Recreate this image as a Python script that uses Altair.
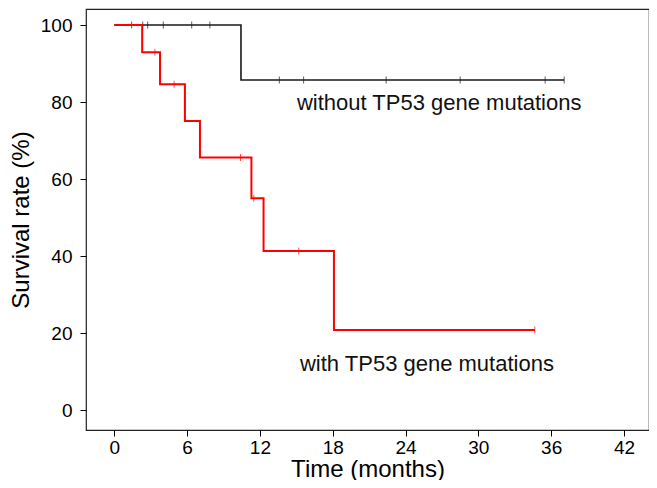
import altair as alt
import pandas as pd

# Kaplan-Meier step points (time in months, survival %)
black_t = [0, 10.44, 37.07]
black_s = [100, 85.7, 85.7]
red_t = [0, 2.3, 3.77, 5.82, 7.06, 11.3, 12.3, 18.1, 34.65]
red_s = [100, 92.9, 84.6, 75.1, 65.6, 55.0, 41.3, 20.8, 20.8]

# censor marks
black_ct = [1.43, 2.34, 2.75, 4.04, 6.38, 7.88, 13.6, 15.6, 22.4, 28.5, 35.5, 37.07]
black_cs = [100, 100, 100, 100, 100, 100, 85.7, 85.7, 85.7, 85.7, 85.7, 85.7]
red_ct = [3.35, 4.93, 10.4, 11.5, 15.2, 34.65]
red_cs = [92.9, 84.6, 65.6, 55.0, 41.3, 20.8]

label_text = ["without TP53 gene mutations", "with TP53 gene mutations"]
label_x = [15.05, 15.3]
label_y = [79.7, 12.0]

x_ticks = [0, 6, 12, 18, 24, 30, 36, 42]
y_ticks = [0, 20, 40, 60, 80, 100]

FONT = "Liberation Sans"
xscale = alt.Scale(domain=[-2.33, 44.06], nice=False, zero=False)
yscale = alt.Scale(domain=[-5.19, 104.16], nice=False, zero=False)

xax = alt.Axis(values=x_ticks, title="Time (months)", grid=False, domain=False,
               tickColor="black", tickSize=6, labelColor="black", labelFont=FONT,
               labelFontSize=19, labelPadding=2, titleFont=FONT, titleFontSize=24,
               titleFontWeight="normal", titleColor="black", titlePadding=0)
yax = alt.Axis(values=y_ticks, title="Survival rate (%)", grid=False, domain=False,
               tickColor="black", tickSize=6, labelColor="black", labelFont=FONT,
               labelFontSize=19, labelPadding=8, titleFont=FONT, titleFontSize=24,
               titleFontWeight="normal", titleColor="black", titlePadding=7)

bl = pd.DataFrame({"t": black_t, "s": black_s})
rl = pd.DataFrame({"t": red_t, "s": red_s})
bc = pd.DataFrame({"t": black_ct, "s": black_cs})
rc = pd.DataFrame({"t": red_ct, "s": red_cs})
lab = pd.DataFrame({"x": label_x, "y": label_y, "text": label_text})

black_line = alt.Chart(bl).mark_line(interpolate="step-after", color="#1a1a1a", strokeWidth=1.6).encode(
    x=alt.X("t:Q", scale=xscale, axis=xax),
    y=alt.Y("s:Q", scale=yscale, axis=yax),
)
black_cens = alt.Chart(bc).mark_tick(orient="vertical", color="#1a1a1a", size=7, thickness=1).encode(
    x=alt.X("t:Q", scale=xscale), y=alt.Y("s:Q", scale=yscale)
)
red_line = alt.Chart(rl).mark_line(interpolate="step-after", color="#ff0000", strokeWidth=2).encode(
    x=alt.X("t:Q", scale=xscale), y=alt.Y("s:Q", scale=yscale)
)
red_cens = alt.Chart(rc).mark_tick(orient="vertical", color="#ff0000", size=7, thickness=1).encode(
    x=alt.X("t:Q", scale=xscale), y=alt.Y("s:Q", scale=yscale)
)
labels = alt.Chart(lab).mark_text(align="left", baseline="middle", font=FONT, fontSize=22, color="#111111").encode(
    x=alt.X("x:Q", scale=xscale), y=alt.Y("y:Q", scale=yscale), text="text:N"
)

chart = alt.layer(black_line, black_cens, red_line, red_cens, labels).properties(
    width=563, height=421,
    autosize=alt.AutoSizeParams(type="none"),
    padding={"left": 78, "top": 1, "right": 0, "bottom": 50},
).configure(
    background="white",
    view=alt.ViewConfig(stroke="#222222", strokeWidth=1.2),
)

chart.save("out.html", embed_options={"renderer": "svg", "actions": False})
